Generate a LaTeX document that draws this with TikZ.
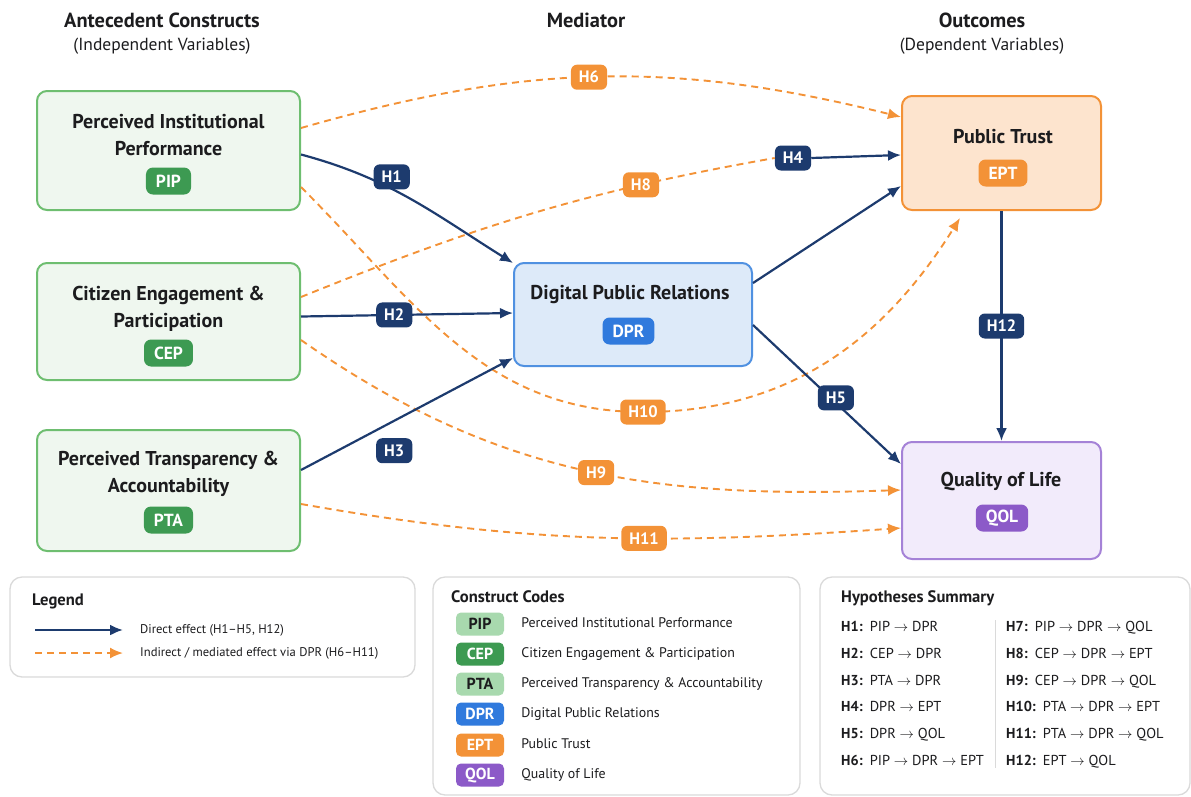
\documentclass[tikz,border=0pt]{standalone}
\usepackage{fontspec}
\setmainfont{PT Sans}
\usepackage{tikz}
\usetikzlibrary{positioning}
\usetikzlibrary{arrows.meta}

\definecolor{ink}{RGB}{28,28,30}
\definecolor{navy}{RGB}{29,59,110}
\definecolor{amber}{RGB}{243,146,55}
\definecolor{greenline}{RGB}{110,190,112}
\definecolor{greenfill}{RGB}{239,247,239}
\definecolor{greenbadge}{RGB}{61,154,82}
\definecolor{greensoft}{RGB}{168,217,174}
\definecolor{blueline}{RGB}{80,145,225}
\definecolor{bluefill}{RGB}{221,234,249}
\definecolor{bluebadge}{RGB}{48,122,221}
\definecolor{orangefill}{RGB}{253,228,206}
\definecolor{purpleline}{RGB}{165,130,215}
\definecolor{purplefill}{RGB}{242,235,251}
\definecolor{purplebadge}{RGB}{140,90,200}
\definecolor{panelgray}{RGB}{218,218,218}

\begin{document}
\begin{tikzpicture}[x=1pt, y=1pt,
    every node/.style={text=ink},
    headtitle/.style={font=\bfseries\fontsize{20.4}{24}\selectfont},
    headsub/.style={font=\fontsize{17.5}{20}\selectfont},
    greenbox/.style={rectangle, rounded corners=10pt, draw=greenline,
      fill=greenfill, line width=2pt, minimum width=263pt},
    bluebox/.style={rectangle, rounded corners=10pt, draw=blueline,
      fill=bluefill, line width=2pt, minimum width=238pt},
    orangebox/.style={rectangle, rounded corners=10pt, draw=amber,
      fill=orangefill, line width=2pt, minimum width=199pt},
    purplebox/.style={rectangle, rounded corners=10pt, draw=purpleline,
      fill=purplefill, line width=2pt, minimum width=199pt},
    boxtitle/.style={align=center, inner sep=0pt,
      font=\bfseries\fontsize{20}{27}\selectfont},
    badge/.style={rectangle, rounded corners=7pt, text=white, inner xsep=10pt,
      inner ysep=0pt, minimum height=27pt, font=\bfseries\fontsize{17.5}{17.5}\selectfont},
    hnavy/.style={rectangle, rounded corners=6pt, fill=navy, text=white,
      inner xsep=8pt, inner ysep=0pt, minimum height=25pt,
      font=\bfseries\fontsize{16.5}{16.5}\selectfont},
    horange/.style={hnavy, fill=amber},
    direct/.style={draw=navy, line width=2.2pt, -{Latex[length=13pt,width=11pt]}},
    indirectline/.style={draw=amber, line width=1.9pt, dash pattern=on 7pt off 5pt},
    indirect/.style={indirectline, -{Latex[length=13pt,width=11pt]}},
    panel/.style={rectangle, rounded corners=12pt, draw=panelgray,
      line width=1.3pt, fill=white},
    paneltitle/.style={anchor=west, inner sep=0pt,
      font=\bfseries\fontsize{16.6}{18}\selectfont},
    paneltext/.style={anchor=west, inner sep=0pt, text height=9pt, text depth=3pt,
      font=\fontsize{12.6}{15}\selectfont},
    codetext/.style={paneltext, text height=10pt, font=\fontsize{13.9}{16}\selectfont},
    hyptext/.style={anchor=west, inner sep=0pt, text height=10.5pt, text depth=3.5pt,
      font=\fontsize{14.4}{16}\selectfont},
    codebadge/.style={rectangle, rounded corners=5pt, minimum width=48pt,
      minimum height=23pt, inner sep=0pt, text=white,
      font=\bfseries\fontsize{16}{16}\selectfont}]
    \useasboundingbox (0,0) rectangle (1191,-796);

    % column headings
    \node[headtitle] (head_ante) at (162,-20) {Antecedent Constructs};
    \node[headsub] (head_ante_sub) at (162,-46) {(Independent Variables)};
    \node[headtitle] (head_med) at (586,-20) {Mediator};
    \node[headtitle] (head_out) at (982,-20) {Outcomes};
    \node[headsub] (head_out_sub) at (982,-46) {(Dependent Variables)};

    % constructs
    \node[greenbox, minimum height=119pt] (pip) at (168.5,-150.5) {};
    \node[boxtitle] (pip_t) at (168.5,-135.5) {Perceived Institutional\\Performance};
    \node[badge, fill=greenbadge] (pip_b) at (168.5,-181) {PIP};
    \node[greenbox, minimum height=117pt] (cep) at (168.5,-321.5) {};
    \node[boxtitle] (cep_t) at (168.5,-309) {Citizen Engagement \&\\Participation};
    \node[badge, fill=greenbadge] (cep_b) at (168.5,-353) {CEP};
    \node[greenbox, minimum height=121pt] (pta) at (168.5,-490.5) {};
    \node[boxtitle] (pta_t) at (168.5,-474) {Perceived Transparency \&\\Accountability};
    \node[badge, fill=greenbadge] (pta_b) at (168.5,-520) {PTA};
    \node[bluebox, minimum height=103pt] (dpr) at (633,-314.5) {};
    \node[boxtitle] (dpr_t) at (630,-295) {Digital Public Relations};
    \node[badge, fill=bluebadge] (dpr_b) at (628.5,-331) {DPR};
    \node[orangebox, minimum height=114pt] (ept) at (1001.5,-153) {};
    \node[boxtitle] (ept_t) at (1003,-137) {Public Trust};
    \node[badge, fill=amber] (ept_b) at (1003,-173) {EPT};
    \node[purplebox, minimum height=117pt] (qol) at (1001.5,-500.5) {};
    \node[boxtitle] (qol_t) at (1001,-481) {Quality of Life};
    \node[badge, fill=purplebadge] (qol_b) at (1002,-518) {QOL};

    % indirect (mediated) paths
    \node[hnavy] (h4) at (793,-158) {H4};
    \draw[indirect] ([yshift=22.5]pip.east) to[out=16,in=166] node[horange, pos=0.48] (h6) {H6} ([yshift=36]ept.west);
    \draw[indirectline] ([yshift=24.5]cep.east) to[out=22,in=190] node[horange, pos=0.74] (h8) {H8} (h4.west);
    \coordinate (h10_c) at (643,-412);
    \draw[indirect] ([yshift=-36.5]pip.east) to[out=-45,in=180] (h10_c) to[out=0,in=-122] ([xshift=-41.5,yshift=-7]ept.south);
    \node[horange] (h10) at (h10_c) {H10};
    \draw[indirect] ([yshift=-18.5]cep.east) to[out=-35,in=182] node[horange, pos=0.52] (h9) {H9} ([yshift=10.5]qol.west);
    \draw[indirect] ([yshift=-13.5]pta.east) to[out=-10,in=184] node[horange, pos=0.58] (h11) {H11} ([yshift=-27.5]qol.west);

    % direct paths
    \draw[direct] ([yshift=-4]pip.east) to[out=-15,in=148] node[hnavy, pos=0.4, yshift=12] (h1) {H1} ([yshift=-1]dpr.north west);
    \draw[direct] ([yshift=5]cep.east) -- node[hnavy, pos=0.44] (h2) {H2} ([yshift=1.5]dpr.west);
    \draw[direct] ([yshift=20.5]pta.east) -- node[hnavy, pos=0.44, yshift=-30] (h3) {H3} ([yshift=9]dpr.south west);
    \draw[direct] ([yshift=31.5]dpr.east) -- ([yshift=-33]ept.west);
    \draw[direct] (h4.east) -- ([yshift=-2]ept.west);
    \draw[direct] ([yshift=-10.5]dpr.east) -- node[hnavy, pos=0.56, yshift=5] (h5) {H5} ([yshift=36.5]qol.west);
    \draw[direct] (ept.south) -- node[hnavy] (h12) {H12} (qol.north);

    % legend
    \node[panel, minimum width=405pt, minimum height=100pt] (legend) at (212.5,-627) {};
    \node[paneltitle] (legend_t) at (32,-601) {Legend};
    \coordinate (leg_d0) at (35,-630);
    \coordinate (leg_d1) at (123,-630);
    \coordinate (leg_i0) at (35,-653);
    \coordinate (leg_i1) at (123,-653);
    \draw[direct] (leg_d0) -- (leg_d1);
    \draw[indirect] (leg_i0) -- (leg_i1);
    \node[paneltext] (leg_direct) at (140,-630) {Direct effect (H1–H5, H12)};
    \node[paneltext] (leg_indirect) at (140,-653) {Indirect / mediated effect via DPR (H6–H11)};

    % construct codes
    \node[panel, minimum width=367pt, minimum height=218pt] (codes) at (616.5,-686) {};
    \node[paneltitle] (codes_t) at (451,-597) {Construct Codes};
    \node[codebadge, fill=greensoft, text=ink] (cc_pip) at (480,-624) {PIP};
    \node[codetext] (cc_pip_t) [right=17pt of cc_pip] {Perceived Institutional Performance};
    \node[codebadge, fill=greenbadge] (cc_cep) at (480,-654) {CEP};
    \node[codetext] (cc_cep_t) [right=17pt of cc_cep] {Citizen Engagement \& Participation};
    \node[codebadge, fill=greensoft, text=ink] (cc_pta) at (480,-684) {PTA};
    \node[codetext] (cc_pta_t) [right=17pt of cc_pta] {Perceived Transparency \& Accountability};
    \node[codebadge, fill=bluebadge] (cc_dpr) at (480,-714) {DPR};
    \node[codetext] (cc_dpr_t) [right=17pt of cc_dpr] {Digital Public Relations};
    \node[codebadge, fill=amber] (cc_ept) at (480,-745) {EPT};
    \node[codetext] (cc_ept_t) [right=17pt of cc_ept] {Public Trust};
    \node[codebadge, fill=purplebadge] (cc_qol) at (480,-775) {QOL};
    \node[codetext] (cc_qol_t) [right=17pt of cc_qol] {Quality of Life};

    % hypotheses summary
    \node[panel, minimum width=370pt, minimum height=218pt] (hyps) at (1005,-686) {};
    \node[paneltitle] (hyps_t) at (841,-598) {Hypotheses Summary};
    \coordinate (hyps_div0) at (995,-620);
    \coordinate (hyps_div1) at (995,-768);
    \draw[panelgray, line width=1pt] (hyps_div0) -- (hyps_div1);
    \node[hyptext] (hs1) at (841,-628) {\textbf{H1:}\enspace PIP $\to$ DPR};
    \node[hyptext] (hs2) at (841,-655) {\textbf{H2:}\enspace CEP $\to$ DPR};
    \node[hyptext] (hs3) at (841,-682) {\textbf{H3:}\enspace PTA $\to$ DPR};
    \node[hyptext] (hs4) at (841,-708) {\textbf{H4:}\enspace DPR $\to$ EPT};
    \node[hyptext] (hs5) at (841,-735) {\textbf{H5:}\enspace DPR $\to$ QOL};
    \node[hyptext] (hs6) at (841,-762) {\textbf{H6:}\enspace PIP $\to$ DPR $\to$ EPT};
    \node[hyptext] (hs7) at (1006,-628) {\textbf{H7:}\enspace PIP $\to$ DPR $\to$ QOL};
    \node[hyptext] (hs8) at (1006,-655) {\textbf{H8:}\enspace CEP $\to$ DPR $\to$ EPT};
    \node[hyptext] (hs9) at (1006,-682) {\textbf{H9:}\enspace CEP $\to$ DPR $\to$ QOL};
    \node[hyptext] (hs10) at (1006,-708) {\textbf{H10:}\enspace PTA $\to$ DPR $\to$ EPT};
    \node[hyptext] (hs11) at (1006,-735) {\textbf{H11:}\enspace PTA $\to$ DPR $\to$ QOL};
    \node[hyptext] (hs12) at (1006,-762) {\textbf{H12:}\enspace EPT $\to$ QOL};
  \end{tikzpicture}
\end{document}
